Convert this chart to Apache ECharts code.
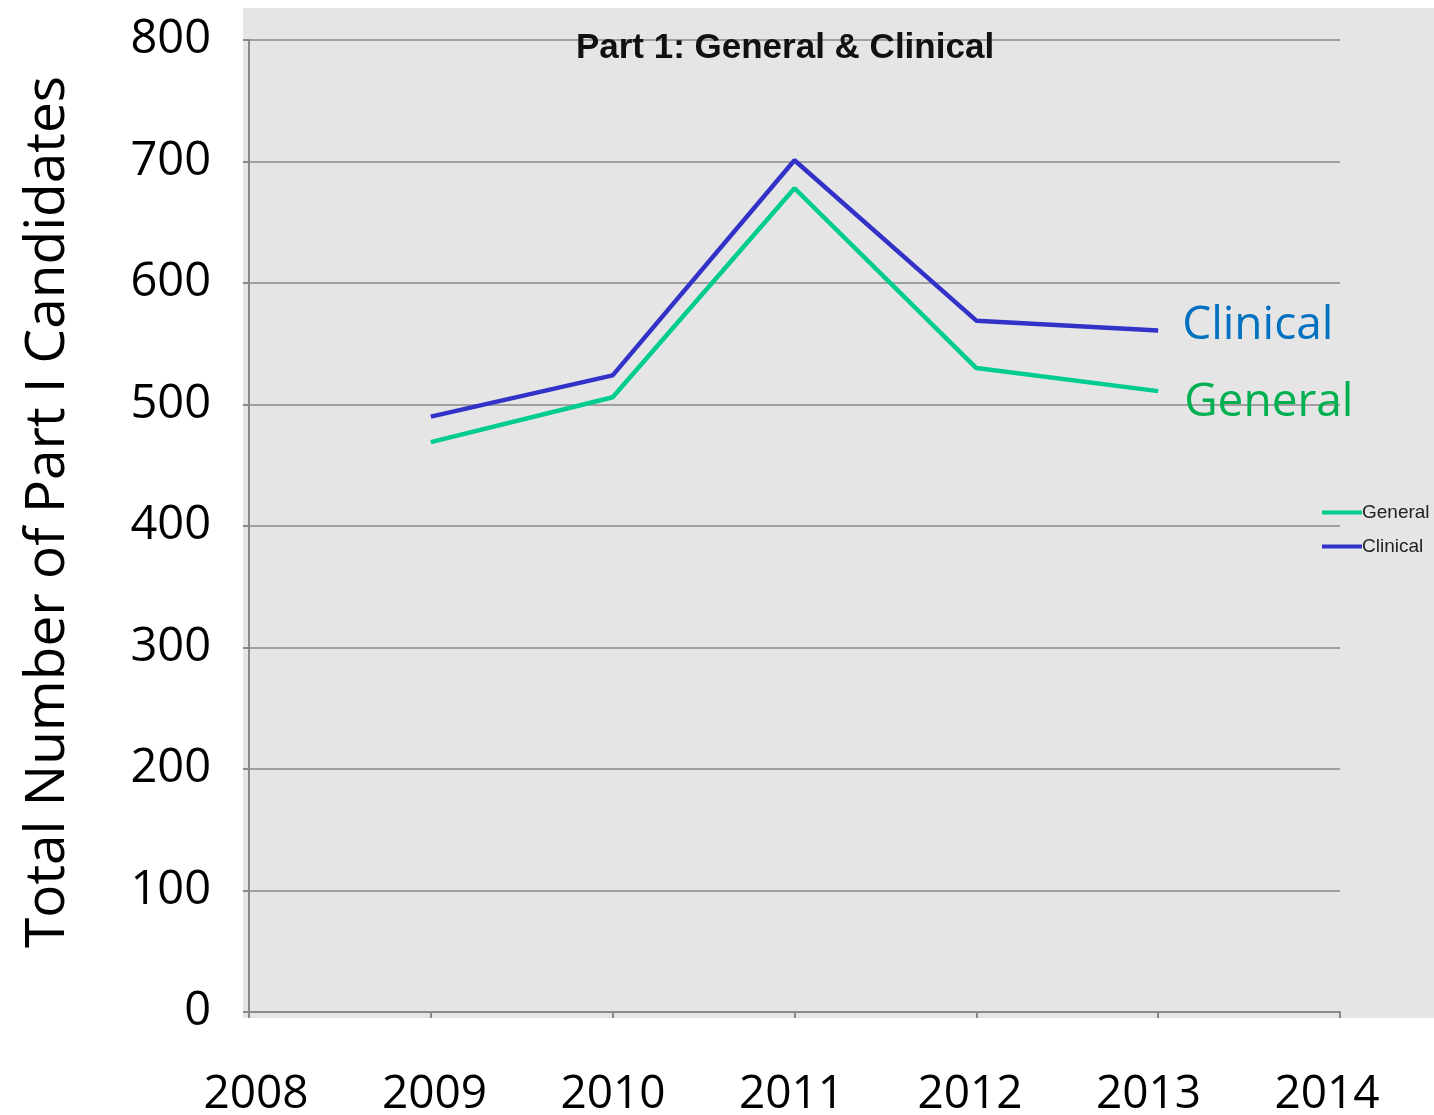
<!DOCTYPE html>
<html>
<head>
<meta charset="utf-8">
<script src="https://cdn.jsdelivr.net/npm/echarts@6/dist/echarts.min.js"></script>
<style>
  html, body { margin: 0; padding: 0; background: #fff; }
  #chart { width: 1434px; height: 1115px; }
</style>
</head>
<body>
<div id="chart"></div>
<script>
// 数据
const years = [2009, 2010, 2011, 2012, 2013];
const generalValues = [469, 506, 678, 530, 511];
const clinicalValues = [490, 524, 701, 569, 561];
const xTickLabels = [2008, 2009, 2010, 2011, 2012, 2013, 2014];

const bigFont = '"Open Sans", "Noto Sans", sans-serif';
const smallFont = '"Liberation Sans", Arial, sans-serif';

const chart = echarts.init(document.getElementById('chart'));

const option = {
  backgroundColor: '#fff',
  animation: false,
  title: {
    text: 'Part 1: General & Clinical',
    left: 780,
    top: 26,
    textAlign: 'center',
    textStyle: { fontFamily: smallFont, fontSize: 35, fontWeight: 'bold', color: '#111' }
  },
  graphic: [
    {
      type: 'rect',
      z: -10,
      shape: { x: 243, y: 8, width: 1191, height: 1010 },
      style: { fill: '#e5e5e5' }
    }
  ],
  legend: {
    left: 1322,
    top: 503,
    padding: 0,
    orient: 'vertical',
    itemWidth: 40,
    itemHeight: 4,
    itemGap: 15,
    icon: 'rect',
    textStyle: { fontFamily: smallFont, fontSize: 19, color: '#222', padding: [0, 0, 0, -5] },
    data: ['General', 'Clinical']
  },
  grid: [
    // 绘图区
    { left: 249, right: 94, top: 40, bottom: 103, outerBoundsMode: 'none', containLabel: false },
    // 年份标签（原图标签与刻度略有错位）
    { left: 256, right: 107, top: 40, bottom: 103, outerBoundsMode: 'none', containLabel: false }
  ],
  xAxis: [
    {
      gridIndex: 0,
      type: 'value',
      min: 2008,
      max: 2014,
      interval: 1,
      axisLine: { show: true, onZero: false, lineStyle: { color: '#888', width: 2 } },
      axisTick: { show: true, length: 6, lineStyle: { color: '#888', width: 2 } },
      splitLine: { show: false },
      axisLabel: { show: false }
    },
    {
      gridIndex: 1,
      type: 'value',
      min: 2008,
      max: 2014,
      interval: 1,
      axisLine: { show: false },
      axisTick: { show: false },
      splitLine: { show: false },
      axisLabel: {
        margin: 60,
        fontFamily: bigFont,
        fontSize: 46,
        color: '#000',
        formatter: v => (xTickLabels.indexOf(v) >= 0 ? String(v) : '')
      }
    }
  ],
  yAxis: [
    {
      gridIndex: 0,
      type: 'value',
      min: 0,
      max: 800,
      interval: 100,
      name: 'Total Number of Part I Candidates',
      nameLocation: 'middle',
      nameRotate: 90,
      nameGap: 173,
      nameTextStyle: { fontFamily: bigFont, fontSize: 55, color: '#000', padding: [0, 0, 0, 28] },
      axisLine: { show: true, lineStyle: { color: '#888', width: 2 } },
      axisTick: { show: true, length: 6, lineStyle: { color: '#888', width: 2 } },
      splitLine: { show: true, lineStyle: { color: '#a0a0a0', width: 2 } },
      axisLabel: { margin: 38, fontFamily: bigFont, fontSize: 47, color: '#000' }
    },
    {
      gridIndex: 1,
      type: 'value',
      min: 0,
      max: 800,
      show: false
    }
  ],
  series: [
    {
      name: 'General',
      type: 'line',
      data: years.map((y, i) => [y, generalValues[i]]),
      showSymbol: false,
      color: '#00cc8f',
      lineStyle: { width: 4.5, color: '#00cc8f' },
      endLabel: {
        show: true,
        formatter: 'General',
        distance: 26,
        offset: [0, 12],
        fontFamily: bigFont,
        fontSize: 46,
        color: '#00b050'
      }
    },
    {
      name: 'Clinical',
      type: 'line',
      data: years.map((y, i) => [y, clinicalValues[i]]),
      showSymbol: false,
      color: '#3232c8',
      lineStyle: { width: 4.5, color: '#3232c8' },
      endLabel: {
        show: true,
        formatter: 'Clinical',
        distance: 24,
        offset: [0, -4],
        fontFamily: bigFont,
        fontSize: 46,
        color: '#0070c0'
      }
    }
  ]
};

chart.setOption(option);
</script>
</body>
</html>
